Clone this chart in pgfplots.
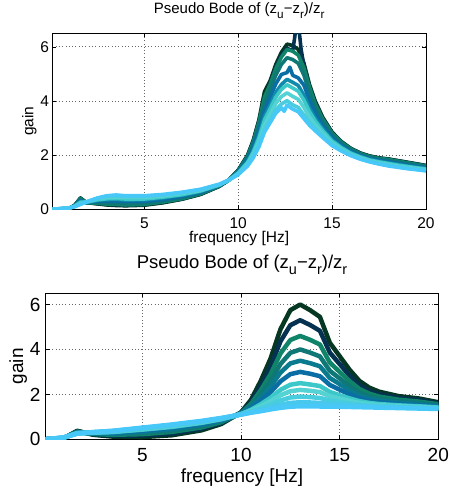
\documentclass[border=0pt]{standalone}
\usepackage{fontspec}
\setmainfont{Liberation Sans}
\usepackage{graphicx}
\usepackage{pgfplots}
\usepackage{pgfplotstable}
\pgfplotsset{compat=1.18}

\definecolor{k1}{RGB}{5,55,35}
\definecolor{k2}{RGB}{5,50,80}
\definecolor{k3}{RGB}{15,132,105}
\definecolor{k4}{RGB}{15,120,118}
\definecolor{k5}{RGB}{10,122,142}
\definecolor{k6}{RGB}{10,110,165}
\definecolor{k7}{RGB}{60,200,200}
\definecolor{k8}{RGB}{85,210,212}
\definecolor{k9}{RGB}{72,205,222}
\definecolor{k10}{RGB}{72,200,236}
\definecolor{k11}{RGB}{72,200,248}
\definecolor{t6}{RGB}{15,140,172}

\newcommand{\msub}[1]{\raisebox{-0.33em}{\scalebox{0.78}{#1}}}

\pgfplotstableread{
f    c1   c2   c3   c4   c5   c6   c7   c8   c9   c10  c11
0.1  0    0    0    0    0    0    0    0    0    0    0
1    0.03 0.04 0.05 0.05 0.06 0.06 0.07 0.07 0.08 0.08 0.08
1.7  0.38 0.36 0.34 0.32 0.31 0.29 0.28 0.27 0.26 0.26 0.25
2.5  0.20 0.22 0.24 0.25 0.27 0.28 0.29 0.30 0.31 0.32 0.32
3.5  0.12 0.16 0.20 0.24 0.26 0.29 0.32 0.34 0.36 0.37 0.38
5    0.10 0.17 0.23 0.29 0.33 0.38 0.43 0.45 0.48 0.50 0.52
6.5  0.18 0.25 0.33 0.39 0.45 0.50 0.55 0.58 0.61 0.64 0.66
8    0.40 0.47 0.53 0.59 0.63 0.68 0.73 0.75 0.78 0.80 0.82
9    0.68 0.72 0.76 0.80 0.83 0.86 0.89 0.91 0.92 0.94 0.95
10   1.20 1.19 1.17 1.16 1.15 1.13 1.12 1.12 1.11 1.10 1.10
10.5 1.75 1.66 1.57 1.50 1.44 1.37 1.31 1.27 1.23 1.20 1.18
11   2.60 2.39 2.18 2.00 1.86 1.71 1.56 1.47 1.38 1.30 1.25
11.5 3.60 3.25 2.90 2.60 2.35 2.10 1.85 1.70 1.55 1.42 1.33
12   4.90 4.36 3.82 3.35 2.97 2.58 2.20 1.96 1.73 1.54 1.40
12.5 5.75 5.08 4.42 3.85 3.38 2.90 2.43 2.14 1.86 1.62 1.45
13   6.00 5.30 4.60 4.00 3.50 3.00 2.50 2.20 1.90 1.65 1.47
13.5 5.75 5.09 4.43 3.86 3.39 2.92 2.44 2.16 1.88 1.64 1.47
14   5.45 4.83 4.22 3.69 3.25 2.81 2.37 2.10 1.84 1.62 1.46
14.5 4.30 3.86 3.42 3.05 2.73 2.42 2.11 1.92 1.73 1.57 1.46
15   3.70 3.35 3.00 2.71 2.46 2.21 1.96 1.81 1.66 1.54 1.45
15.5 3.10 2.84 2.59 2.37 2.18 2.00 1.82 1.71 1.60 1.51 1.44
16   2.60 2.42 2.24 2.08 1.95 1.83 1.70 1.62 1.54 1.48 1.43
16.5 2.30 2.16 2.03 1.91 1.81 1.72 1.62 1.56 1.50 1.46 1.42
17   2.12 2.01 1.90 1.81 1.73 1.65 1.57 1.52 1.48 1.44 1.41
18   1.92 1.84 1.76 1.69 1.63 1.57 1.51 1.48 1.44 1.41 1.39
19   1.82 1.75 1.68 1.62 1.57 1.52 1.47 1.44 1.41 1.39 1.37
20   1.65 1.60 1.56 1.52 1.48 1.45 1.42 1.40 1.38 1.36 1.35
}\bottomdata

\pgfplotsset{
  mlab/.style={
    scale only axis, anchor=south west,
    xmin=0.1, xmax=20, ymin=0, ymax=6.5,
    xtick={5,10,15,20}, ytick={0,2,4,6},
    tick align=inside, xtick pos=both, ytick pos=both,
    major tick length=4pt,
    grid=major,
    grid style={dash pattern=on 0.7pt off 2.6pt, black!60, line width=0.7pt},
    axis line style={line width=0.9pt},
    every tick/.style={black, line width=0.6pt},
    /pgf/number format/assume math mode=true,
    xlabel={frequency [Hz]}, ylabel={gain},
    clip=true,
  }
}

\begin{document}
\begin{tikzpicture}
\useasboundingbox (0pt,0pt) rectangle (450pt,493pt);

% ---------- top ----------
\begin{axis}[mlab,
  at={(52.3pt,283.7pt)}, width=373.7pt, height=176pt,
  font=\fontsize{15.5}{18}\selectfont,
  title={Pseudo Bode of (z\msub{u}−z\msub{r})/z\msub{r}},
  title style={at={(0.5,1)}, anchor=base, yshift=14pt, font=\fontsize{15}{18}\selectfont},
  xticklabel style={anchor=base, inner sep=0pt, yshift=-19pt},
  yticklabel style={anchor=east, inner sep=0pt, xshift=-3pt},
  xlabel style={at={(axis description cs:0.5,-0.19)}, anchor=base},
  ylabel style={at={(axis description cs:-0.0508,0.5)}, anchor=base},
  every axis plot/.append style={line width=3.6pt, line join=round},
]
\addplot[k1] coordinates {(0.1,0) (1,0.03) (1.3,0.15) (1.6,0.42) (1.9,0.25) (2.5,0.2) (3,0.16) (3.5,0.14) (4,0.13) (5,0.15) (6,0.24) (7,0.37) (8,0.55) (9,0.85) (9.5,1.08) (10,1.45) (10.5,2.0) (10.8,2.55) (11.1,3.3) (11.4,4.35) (11.7,4.75) (12,5.35) (12.3,5.8) (12.6,6.1) (12.9,6.05) (13.2,5.9) (13.5,5.4) (13.8,4.6) (14.1,4.0) (14.5,3.4) (15,2.85) (15.5,2.5) (16,2.25) (16.5,2.08) (17,1.97) (17.5,1.9) (18,1.86) (18.5,1.8) (19,1.74) (19.5,1.68) (20,1.62)};
\addplot[k2] coordinates {(0.1,0) (1,0.03) (1.3,0.15) (1.6,0.41) (1.9,0.25) (2.5,0.21) (3,0.18) (3.5,0.16) (4,0.15) (5,0.17) (6,0.26) (7,0.38) (8,0.56) (9,0.85) (9.5,1.08) (10,1.44) (10.5,1.98) (10.8,2.52) (11.1,3.25) (11.4,4.13) (11.7,4.67) (12,5.26) (12.3,5.7) (12.6,5.95) (12.9,5.85) (13.0,6.3) (13.1,6.9) (13.2,6.9) (13.35,5.9) (13.5,5.3) (13.8,4.55) (14.1,3.95) (14.5,3.36) (15,2.83) (15.5,2.48) (16,2.24) (16.5,2.07) (17,1.96) (17.5,1.89) (18,1.85) (18.5,1.79) (19,1.73) (19.5,1.67) (20,1.61)};
\addplot[k3] coordinates {(0.1,0) (1,0.03) (1.3,0.15) (1.6,0.40) (1.9,0.25) (2.5,0.22) (3,0.19) (3.5,0.18) (4,0.16) (5,0.18) (6,0.27) (7,0.39) (8,0.57) (9,0.86) (9.5,1.08) (10,1.43) (10.5,1.96) (10.8,2.49) (11.1,3.21) (11.4,4.15) (11.7,4.61) (12,5.19) (12.3,5.62) (12.6,5.90) (12.9,5.84) (13.2,5.69) (13.5,5.22) (13.8,4.50) (14.1,3.90) (14.5,3.33) (15,2.81) (15.5,2.47) (16,2.23) (16.5,2.06) (17,1.95) (17.5,1.88) (18,1.84) (18.5,1.78) (19,1.72) (19.5,1.66) (20,1.60)};
\addplot[k4] coordinates {(0.1,0) (1,0.03) (1.3,0.14) (1.6,0.37) (1.9,0.25) (2.5,0.25) (3,0.23) (3.5,0.23) (4,0.21) (5,0.23) (6,0.31) (7,0.43) (8,0.59) (9,0.87) (9.5,1.08) (10,1.41) (10.5,1.91) (10.8,2.41) (11.1,3.08) (11.4,3.90) (11.7,4.41) (12,4.95) (12.3,5.35) (12.6,5.60) (12.9,5.53) (13.2,5.39) (13.5,4.95) (13.8,4.27) (14.1,3.76) (14.5,3.24) (15,2.74) (15.5,2.42) (16,2.19) (16.5,2.03) (17,1.92) (17.5,1.85) (18,1.80) (18.5,1.75) (19,1.69) (19.5,1.63) (20,1.58)};
\addplot[k6] coordinates {(0.1,0) (1,0.04) (1.3,0.13) (1.6,0.32) (1.9,0.26) (2.5,0.29) (3,0.30) (3.5,0.30) (4,0.28) (5,0.29) (6,0.36) (7,0.47) (8,0.63) (9,0.88) (9.5,1.08) (10,1.38) (10.5,1.84) (10.8,2.29) (11.1,2.90) (11.4,3.66) (11.7,4.13) (12,4.63) (12.3,4.98) (12.6,5.05) (12.75,5.25) (12.9,4.95) (13.2,4.85) (13.5,4.58) (13.8,4.0) (14.1,3.56) (14.5,3.10) (15,2.65) (15.5,2.36) (16,2.14) (16.5,1.99) (17,1.88) (17.5,1.81) (18,1.76) (18.5,1.70) (19,1.64) (19.5,1.59) (20,1.54)};
\addplot[t6] coordinates {(0.1,0) (1,0.04) (1.3,0.12) (1.6,0.28) (1.9,0.26) (2.5,0.33) (3,0.36) (3.5,0.37) (4,0.34) (5,0.35) (6,0.42) (7,0.52) (8,0.66) (9,0.90) (9.5,1.08) (10,1.35) (10.5,1.77) (10.8,2.17) (11.1,2.72) (11.4,3.42) (11.7,3.85) (12,4.31) (12.3,4.61) (12.6,4.80) (12.9,4.69) (13.2,4.57) (13.5,4.21) (13.8,3.73) (14.1,3.36) (14.5,2.97) (15,2.56) (15.5,2.30) (16,2.09) (16.5,1.95) (17,1.84) (17.5,1.77) (18,1.71) (18.5,1.66) (19,1.60) (19.5,1.55) (20,1.50)};
\addplot[k7] coordinates {(0.1,0) (1,0.04) (1.3,0.12) (1.6,0.26) (1.9,0.26) (2.5,0.35) (3,0.39) (3.5,0.40) (4,0.38) (5,0.38) (6,0.45) (7,0.54) (8,0.68) (9,0.90) (9.5,1.08) (10,1.34) (10.5,1.73) (10.8,2.11) (11.1,2.63) (11.4,3.30) (11.7,3.71) (12,4.14) (12.3,4.43) (12.6,4.60) (12.9,4.48) (13.2,4.36) (13.5,4.03) (13.8,3.60) (14.1,3.26) (14.5,2.90) (15,2.52) (15.5,2.27) (16,2.07) (16.5,1.93) (17,1.82) (17.5,1.75) (18,1.69) (18.5,1.63) (19,1.58) (19.5,1.53) (20,1.49)};
\addplot[k8] coordinates {(0.1,0) (1,0.05) (1.3,0.11) (1.6,0.23) (1.9,0.27) (2.5,0.38) (3,0.43) (3.5,0.45) (4,0.43) (5,0.43) (6,0.49) (7,0.58) (8,0.70) (9,0.91) (9.5,1.08) (10,1.31) (10.5,1.68) (10.8,2.03) (11.1,2.50) (11.4,3.12) (11.7,3.51) (12,3.91) (12.3,4.16) (12.6,4.30) (12.9,4.17) (13.2,4.06) (13.5,3.76) (13.8,3.40) (14.1,3.12) (14.5,2.80) (15,2.45) (15.5,2.22) (16,2.03) (16.5,1.90) (17,1.79) (17.5,1.72) (18,1.65) (18.5,1.60) (19,1.55) (19.5,1.50) (20,1.46)};
\addplot[k9] coordinates {(0.1,0) (1,0.05) (1.3,0.10) (1.6,0.20) (1.9,0.27) (2.5,0.40) (3,0.48) (3.5,0.50) (4,0.47) (5,0.48) (6,0.53) (7,0.61) (8,0.73) (9,0.92) (9.5,1.08) (10,1.29) (10.5,1.63) (10.8,1.95) (11.1,2.37) (11.4,2.94) (11.7,3.31) (12,3.68) (12.3,3.89) (12.6,4.01) (12.9,3.86) (13.2,3.76) (13.5,3.49) (13.8,3.21) (14.1,2.98) (14.5,2.70) (15,2.39) (15.5,2.17) (16,2.00) (16.5,1.87) (17,1.77) (17.5,1.69) (18,1.62) (18.5,1.57) (19,1.52) (19.5,1.48) (20,1.43)};
\addplot[k11] coordinates {(0.1,0) (1,0.05) (1.3,0.10) (1.6,0.18) (1.9,0.27) (2.5,0.42) (3,0.50) (3.5,0.53) (4,0.50) (5,0.50) (6,0.55) (7,0.63) (8,0.74) (9,0.93) (9.5,1.08) (10,1.28) (10.5,1.60) (10.8,1.90) (11.1,2.30) (11.4,2.85) (11.7,3.20) (12,3.55) (12.3,3.75) (12.45,3.62) (12.6,3.85) (12.9,3.70) (13.2,3.60) (13.5,3.35) (13.8,3.10) (14.1,2.90) (14.5,2.65) (15,2.35) (15.5,2.15) (16,1.98) (16.5,1.85) (17,1.75) (17.5,1.67) (18,1.60) (18.5,1.55) (19,1.50) (19.5,1.46) (20,1.42)};
\end{axis}

% ---------- bottom ----------
\begin{axis}[mlab,
  at={(45.7pt,53.7pt)}, width=392.6pt, height=146pt,
  font=\fontsize{19}{22}\selectfont,
  title={Pseudo Bode of (z\msub{u}−z\msub{r})/z\msub{r}},
  title style={at={(0.5,1)}, anchor=base, yshift=19pt, font=\fontsize{18.5}{22}\selectfont},
  xticklabel style={anchor=base, inner sep=0pt, yshift=-22.4pt},
  yticklabel style={anchor=east, inner sep=0pt, xshift=-5pt},
  xlabel style={at={(axis description cs:0.5,-0.293)}, anchor=base},
  ylabel style={at={(axis description cs:-0.0578,0.5)}, anchor=base},
  every axis plot/.append style={line width=4.5pt, line join=round},
]
\addplot[k1]  table[x=f,y=c1]  {\bottomdata};
\addplot[k2]  table[x=f,y=c2]  {\bottomdata};
\addplot[k3]  table[x=f,y=c3]  {\bottomdata};
\addplot[k4]  table[x=f,y=c4]  {\bottomdata};
\addplot[k5]  table[x=f,y=c5]  {\bottomdata};
\addplot[k6]  table[x=f,y=c6]  {\bottomdata};
\addplot[k7]  table[x=f,y=c7]  {\bottomdata};
\addplot[k8]  table[x=f,y=c8]  {\bottomdata};
\addplot[k9]  table[x=f,y=c9]  {\bottomdata};
\addplot[k10] table[x=f,y=c10] {\bottomdata};
\addplot[k11] table[x=f,y=c11] {\bottomdata};
\end{axis}
\end{tikzpicture}
\end{document}
